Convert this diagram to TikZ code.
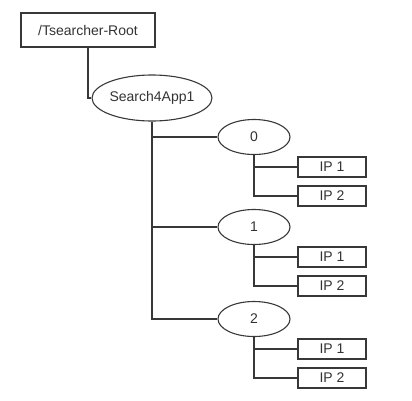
\documentclass[tikz,border=0pt]{standalone}
\usepackage{fontspec}
\setmainfont{Liberation Sans}
\usetikzlibrary{shapes.geometric}
\begin{document}
\begin{tikzpicture}[x=1pt,y=-1pt,
  conn/.style={draw=black!78, line width=1.1pt},
  basebox/.style={draw=black!78, line width=1.1pt, inner sep=0pt, text=black!80, font=\fontsize{14}{16}\selectfont},
  rootbox/.style={basebox, rectangle, minimum width=134pt, minimum height=34pt},
  appoval/.style={basebox, ellipse, minimum width=100pt, minimum height=46pt},
  numoval/.style={basebox, ellipse, minimum width=72pt, minimum height=35pt},
  ipbox/.style={basebox, rectangle, minimum width=68pt, minimum height=20pt}]
\useasboundingbox (0,0) rectangle (412,400);
\node[rootbox] (root) at (88,30) {/Tsearcher-Root};
\node[appoval] (app) at (152,98) {Search4App1};
\draw[conn] (root.south) |- (app.west);
\foreach \k/\y in {0/137,1/227,2/319}{
  \node[numoval] (n\k) at (254,\y) {\k};
  \node[ipbox] (ip\k a) at (332,\y+30) {IP 1};
  \node[ipbox] (ip\k b) at (332,\y+59) {IP 2};
  \draw[conn] (n\k.south) |- (ip\k b.west);
  \draw[conn] (n\k.south |- ip\k a.west) -- (ip\k a.west);
}
\draw[conn] (app.south) |- (n2.west);
\draw[conn] (app.south |- n0.west) -- (n0.west);
\draw[conn] (app.south |- n1.west) -- (n1.west);
\end{tikzpicture}
\end{document}
